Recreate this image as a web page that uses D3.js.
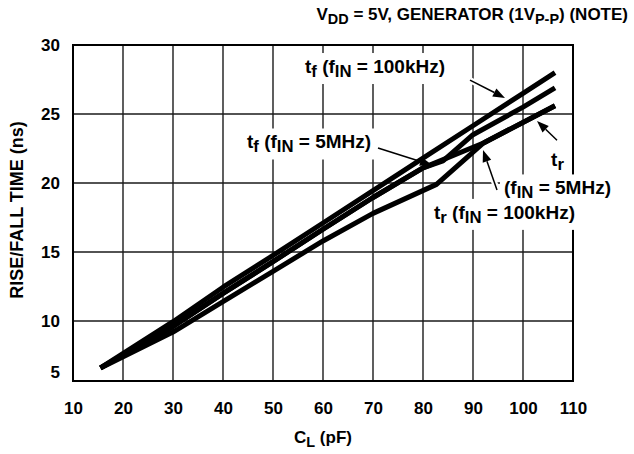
<!DOCTYPE html>
<html>
<head>
<meta charset="utf-8">
<script src="https://cdn.jsdelivr.net/npm/d3@7"></script>
<style>
  html, body { margin: 0; padding: 0; background: #fff; }
  svg { display: block; font-family: "Liberation Sans", Arial, Helvetica, sans-serif; font-weight: bold; }
</style>
</head>
<body>
<svg id="chart" width="634" height="454"></svg>
<script>
// Axis ticks
const xTicks = [10, 20, 30, 40, 50, 60, 70, 80, 90, 100, 110];
const yTicks = [10, 15, 20, 25, 30];
const yBottomLabel = "5";

// Rise/fall time (ns) against load capacitance CL (pF)
const tfAt100k = [[15.5, 6.6], [30, 9.95], [40, 12.45], [50, 14.75], [60, 17.1], [70, 19.45], [80, 21.8], [90, 24.15], [100, 26.5], [106.4, 28.0]];
const tfAt5M   = [[15.5, 6.6], [30, 9.6], [40, 12.0], [50, 14.3], [60, 16.65], [70, 18.95], [80, 21.1], [84, 21.6], [90, 23.5], [100, 25.5], [106.4, 26.9]];
const trAt5M   = [[15.5, 6.6], [30, 9.6], [40, 12.0], [50, 14.3], [60, 16.65], [70, 18.95], [80, 21.1], [92.1, 22.9], [106.4, 25.6]];
const trAt100k = [[15.5, 6.6], [30, 9.2], [40, 11.4], [50, 13.6], [60, 15.8], [70, 17.8], [82.7, 19.9], [92.1, 22.9], [106.4, 25.6]];
const seriesList = [tfAt100k, tfAt5M, trAt5M, trAt100k];

// Curve callouts: text runs [text, isSubscript], anchor in data units
const callouts = [
  { lines: [[["t", 0], ["f", 1], [" (f", 0], ["IN", 1], [" = 100kHz)", 0]]], x: 56.4, y: 27.97, anchor: "start",
    arrow: { from: [89.4, 27.46], to: [96.4, 26.16] } },
  { lines: [[["t", 0], ["f", 1], [" (f", 0], ["IN", 1], [" = 5MHz)", 0]]], x: 44.8, y: 22.5, anchor: "start",
    arrow: { from: [71.0, 22.54], to: [81.8, 21.3] } },
  { lines: [[["t", 0], ["r", 1]], [["(f", 0], ["IN", 1], [" = 5MHz)", 0]]], x: 106.9, y: 21.2, anchor: "middle", lineGap: 28,
    arrow: { from: [106.8, 23.1], to: [102.8, 24.5] } },
  { lines: [[["t", 0], ["r", 1], [" (f", 0], ["IN", 1], [" = 100kHz)", 0]]], x: 82.2, y: 17.4, anchor: "start",
    arrow: { from: [94.8, 19.5], to: [92.0, 22.4] } }
];

const svg = d3.select("#chart");
const plot = { left: 73, right: 573, top: 45, bottom: 381 };

const x = d3.scaleLinear().domain([10, 110]).range([plot.left, plot.right]);
const y = d3.scaleLinear().domain([5.652, 30]).range([plot.bottom, plot.top]);

const fs = 17;       // axis and header text
const fsNote = 19;   // curve callouts

// Grid
const grid = svg.append("g").attr("stroke", "#1a1a1a").attr("stroke-width", 1.4);
grid.selectAll("line.v").data(xTicks.slice(1, -1)).join("line")
  .attr("x1", d => x(d)).attr("x2", d => x(d))
  .attr("y1", plot.top).attr("y2", plot.bottom);
grid.selectAll("line.h").data(yTicks.slice(0, -1)).join("line")
  .attr("x1", plot.left).attr("x2", plot.right)
  .attr("y1", d => y(d)).attr("y2", d => y(d));

// Frame
svg.append("rect").attr("x", plot.left).attr("y", plot.top)
  .attr("width", plot.right - plot.left).attr("height", plot.bottom - plot.top)
  .attr("fill", "none").attr("stroke", "#000").attr("stroke-width", 2);

// Axis tick labels
const xAxis = d3.axisBottom(x).tickValues(xTicks).tickSize(0).tickPadding(0).tickFormat(d3.format("d"));
const gx = svg.append("g").attr("transform", `translate(0,${plot.bottom})`).call(xAxis);
gx.select(".domain").remove();
gx.selectAll("text").attr("font-size", fs).attr("font-family", null).attr("fill", "#000")
  .attr("dy", null).attr("y", 33);

const yAxis = d3.axisLeft(y).tickValues(yTicks).tickSize(0).tickPadding(13).tickFormat(d3.format("d"));
const gy = svg.append("g").attr("transform", `translate(${plot.left},0)`).call(yAxis);
gy.select(".domain").remove();
gy.selectAll("text").attr("font-size", fs).attr("font-family", null).attr("fill", "#000");
gy.append("text").attr("x", -13).attr("y", y(y.domain()[0]) - 8.5).attr("dy", "0.32em")
  .attr("text-anchor", "end").attr("font-size", fs).attr("fill", "#000").text(yBottomLabel);

// Axis titles
svg.append("text")
  .attr("transform", `translate(23,${(plot.top + plot.bottom) / 2 - 3}) rotate(-90)`)
  .attr("text-anchor", "middle").attr("font-size", 18).text("RISE/FALL TIME (ns)");

const xt = svg.append("text").attr("x", (plot.left + plot.right) / 2).attr("y", 443)
  .attr("text-anchor", "middle").attr("font-size", fs);
xt.append("tspan").text("C");
xt.append("tspan").attr("font-size", fs * 0.85).attr("dy", 4).text("L");
xt.append("tspan").attr("dy", -4).text(" (pF)");

// Header
const tt = svg.append("text").attr("x", 628).attr("y", 20).attr("text-anchor", "end").attr("font-size", fs);
tt.append("tspan").text("V");
tt.append("tspan").attr("font-size", fs * 0.85).attr("dy", 4).text("DD");
tt.append("tspan").attr("dy", -4).text(" = 5V, GENERATOR (1V");
tt.append("tspan").attr("font-size", fs * 0.85).attr("dy", 4).text("P-P");
tt.append("tspan").attr("dy", -4).text(") (NOTE)");

// Layers for callouts and curves
const bgLayer = svg.append("g");
const curveLayer = svg.append("g");
const arrowLayer = svg.append("g");
const textLayer = svg.append("g");

function writeRuns(sel, runs) {
  let shifted = false;
  runs.forEach(([t, sub]) => {
    const ts = sel.append("tspan").text(t);
    if (sub) {
      ts.attr("font-size", fsNote * 0.88);
      if (!shifted) { ts.attr("dy", 4); shifted = true; }
    } else if (shifted) { ts.attr("dy", -4); shifted = false; }
  });
}

callouts.forEach(c => {
  c.lines.forEach((runs, i) => {
    const t = textLayer.append("text")
      .attr("x", x(c.x)).attr("y", y(c.y) + i * (c.lineGap || 0))
      .attr("text-anchor", c.anchor).attr("font-size", fsNote);
    writeRuns(t, runs);
    const b = t.node().getBBox();
    bgLayer.append("rect").attr("x", b.x - 4).attr("y", b.y - 3)
      .attr("width", b.width + 8).attr("height", b.height + 6).attr("fill", "#fff");
  });
  // arrow with a white halo that clears the grid
  const [x0, y0] = [x(c.arrow.from[0]), y(c.arrow.from[1])];
  const [x1, y1] = [x(c.arrow.to[0]), y(c.arrow.to[1])];
  bgLayer.append("line").attr("x1", x0).attr("y1", y0).attr("x2", x1).attr("y2", y1)
    .attr("stroke", "#fff").attr("stroke-width", 6);
  const ang = Math.atan2(y1 - y0, x1 - x0);
  const hl = 12, hw = 4.5;
  const bx = x1 - hl * Math.cos(ang), by = y1 - hl * Math.sin(ang);
  arrowLayer.append("line").attr("x1", x0).attr("y1", y0).attr("x2", bx).attr("y2", by)
    .attr("stroke", "#000").attr("stroke-width", 1.5);
  arrowLayer.append("path")
    .attr("d", `M${x1},${y1}L${bx - hw * Math.sin(ang)},${by + hw * Math.cos(ang)}L${bx + hw * Math.sin(ang)},${by - hw * Math.cos(ang)}Z`)
    .attr("fill", "#000");
});

// Curves
const line = d3.line().x(d => x(d[0])).y(d => y(d[1]));
curveLayer.selectAll("path").data(seriesList).join("path")
  .attr("d", line).attr("fill", "none").attr("stroke", "#000")
  .attr("stroke-width", 5).attr("stroke-linejoin", "round").attr("stroke-linecap", "butt");
</script>
</body>
</html>
